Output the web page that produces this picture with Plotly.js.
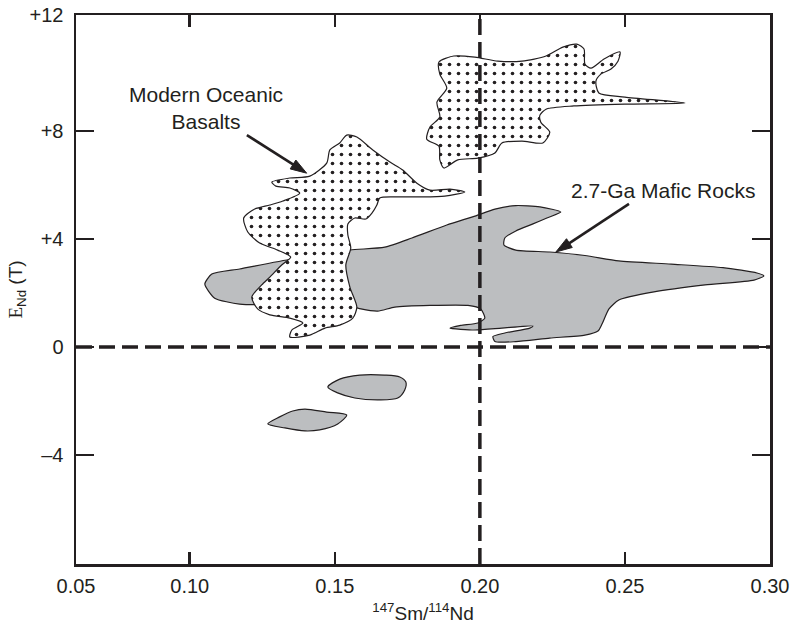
<!DOCTYPE html>
<html>
<head>
<meta charset="utf-8">
<script src="https://cdn.plot.ly/plotly-3.0.1.min.js"></script>
<style>html,body{margin:0;padding:0;background:#fff;}#chart{width:790px;height:626px;}</style>
</head>
<body>
<div id="chart"></div>
<script>
// Axis extents and ticks (data units)
const X_MIN = 0.0608, X_MAX = 0.300;
const Y_MIN = -8.04, Y_MAX = 12.3;
const xTickVals = [X_MIN, 0.10, 0.15, 0.20, 0.25, 0.30];
const xTickText = ['0.05', '0.10', '0.15', '0.20', '0.25', '0.30'];
const yTickVals = [-4, 0, 4, 8, Y_MAX];
const yTickText = ['\u20134', '0', '+4', '+8', '+12'];

// Reference lines
const refX = 0.20;
const refY = 0;

// 2.7-Ga mafic rocks: main field
const maficX = [0.1052,0.1076,0.1172,0.1352,0.1552,0.1672,0.1766,0.1886,0.1983,0.2052,0.2124,0.2207,0.2279,0.2231,0.2183,0.2124,0.2086,0.2083,0.2124,0.2241,0.2362,0.2479,0.2659,0.2838,0.2955,0.2979,0.2945,0.2776,0.2600,0.2479,0.2445,0.2421,0.2407,0.2362,0.2241,0.2124,0.2052,0.2045,0.2086,0.2172,0.2183,0.2076,0.1983,0.1897,0.1934,0.1993,0.2017,0.2003,0.1959,0.1828,0.1707,0.1648,0.1590,0.1566,0.1410,0.1293,0.1172,0.1086,0.1052];
const maficY = [2.33,2.70,2.89,3.26,3.59,3.70,4.04,4.52,4.85,5.11,5.24,5.19,5.00,4.78,4.56,4.30,4.04,3.78,3.59,3.52,3.39,3.19,3.07,2.94,2.74,2.63,2.48,2.30,2.04,1.74,1.41,0.85,0.59,0.44,0.33,0.20,0.20,0.39,0.52,0.70,0.78,0.70,0.63,0.70,0.80,0.89,1.07,1.41,1.54,1.54,1.48,1.33,1.41,1.48,1.85,1.59,1.59,1.81,2.33];
// 2.7-Ga mafic rocks: two small negative fields
const lensAX = [0.1476,0.1517,0.1586,0.1672,0.1724,0.1745,0.1741,0.1717,0.1655,0.1569,0.1510,0.1476];
const lensAY = [-1.48,-1.19,-1.04,-1.04,-1.11,-1.30,-1.59,-1.89,-1.96,-1.89,-1.70,-1.48];
const lensBX = [0.1269,0.1310,0.1355,0.1397,0.1472,0.1541,0.1510,0.1448,0.1397,0.1328,0.1269];
const lensBY = [-2.85,-2.59,-2.37,-2.30,-2.41,-2.52,-2.85,-3.07,-3.11,-3.00,-2.85];

// Modern oceanic basalts: lower field
const mobAX = [0.1283,0.1345,0.1414,0.1472,0.1483,0.1517,0.1541,0.1576,0.1631,0.1690,0.1734,0.1783,0.1828,0.1897,0.1948,0.1879,0.1793,0.1707,0.1655,0.1645,0.1628,0.1607,0.1569,0.1545,0.1545,0.1555,0.1538,0.1552,0.1576,0.1562,0.1517,0.1466,0.1414,0.1345,0.1352,0.1390,0.1345,0.1276,0.1234,0.1214,0.1248,0.1276,0.1317,0.1348,0.1303,0.1241,0.1200,0.1186,0.1224,0.1276,0.1321,0.1379,0.1345,0.1297,0.1283];
const mobAY = [6.11,6.26,6.33,6.81,7.30,7.56,7.85,7.78,7.30,6.85,6.56,6.07,5.81,5.85,5.74,5.59,5.56,5.56,5.52,5.26,4.96,4.74,4.78,4.56,4.15,3.67,3.04,2.22,1.48,1.07,0.81,0.70,0.44,0.37,0.63,0.89,1.07,1.19,1.41,1.85,2.30,2.59,3.04,3.33,3.59,3.85,4.26,4.78,5.11,5.26,5.41,5.70,5.89,5.96,6.11];
// Modern oceanic basalts: upper field
const mobBX = [0.1859,0.1910,0.1983,0.2062,0.2145,0.2228,0.2286,0.2334,0.2359,0.2362,0.2383,0.2428,0.2483,0.2476,0.2452,0.2417,0.2400,0.2410,0.2500,0.2707,0.2500,0.2324,0.2228,0.2207,0.2210,0.2241,0.2217,0.2145,0.2076,0.2052,0.1993,0.1924,0.1876,0.1862,0.1859,0.1817,0.1828,0.1862,0.1852,0.1886,0.1862,0.1859];
const mobBY = [10.56,10.78,10.74,10.59,10.59,10.78,11.11,11.22,11.04,10.48,10.33,10.67,10.93,10.59,10.30,10.11,9.85,9.41,9.26,9.04,9.00,8.93,8.81,8.59,8.33,7.96,7.56,7.63,7.56,7.19,7.00,6.93,6.63,6.93,7.44,7.70,8.15,8.52,9.07,9.59,10.11,10.56];

// Labels and arrows (label centre, arrow tail -> head)
const labelMOB = {text: 'Modern Oceanic<br>Basalts', x: 0.1055, y: 8.85, arrowX: [0.1197, 0.1403], arrowY: [7.85, 6.44]};
const labelMafic = {text: '2.7-Ga Mafic Rocks', x: 0.2631, y: 5.81, arrowX: [0.2514, 0.2262], arrowY: [5.30, 3.52]};

const INK = '#231f20';
const GREY = '#bcbec0';
const FONT = 'Liberation Sans, Arial, sans-serif';

function greyField(x, y, smooth) {
  return {x: x, y: y, type: 'scatter', mode: 'lines', fill: 'toself',
    fillcolor: GREY, line: {color: INK, width: 1.2, shape: 'spline', smoothing: smooth},
    hoverinfo: 'skip', showlegend: false};
}
function dottedField(x, y) {
  return {x: x, y: y, type: 'scatter', mode: 'lines', fill: 'toself',
    fillcolor: 'white',
    fillpattern: {shape: '.', fgcolor: INK, bgcolor: 'white', size: 9, solidity: 0.13},
    line: {color: INK, width: 1.2, shape: 'spline', smoothing: 0.7},
    hoverinfo: 'skip', showlegend: false};
}
function dashLine(x, y) {
  return {x: x, y: y, type: 'scatter', mode: 'lines',
    line: {color: INK, width: 3.5, dash: '16px,7px'}, hoverinfo: 'skip', showlegend: false};
}
function arrowLine(l) {
  return {x: l.arrowX, y: l.arrowY, type: 'scatter', mode: 'lines+markers',
    line: {color: INK, width: 2.6},
    marker: {symbol: 'arrow', angleref: 'previous', size: [0, 17], color: INK, opacity: 1, line: {color: INK, width: 1}},
    hoverinfo: 'skip', showlegend: false, cliponaxis: false};
}

const traces = [
  greyField(maficX, maficY, 0.6),
  greyField(lensAX, lensAY, 0.8),
  greyField(lensBX, lensBY, 0.8),
  dottedField(mobAX, mobAY),
  dottedField(mobBX, mobBY),
  dashLine([refX, refX], [Y_MIN, Y_MAX]),
  dashLine([X_MIN, X_MAX], [refY, refY]),
  arrowLine(labelMOB),
  arrowLine(labelMafic)
];

function labelAnn(l) {
  return {x: l.x, y: l.y, xref: 'x', yref: 'y', text: l.text, showarrow: false,
    font: {family: FONT, size: 21, color: INK}, align: 'center'};
}

const layout = {
  width: 790, height: 626,
  margin: {l: 76, r: 20, t: 15, b: 62},
  paper_bgcolor: 'white', plot_bgcolor: 'white',
  showlegend: false,
  font: {family: FONT, color: INK, size: 20},
  xaxis: {
    range: [X_MIN, X_MAX], tickvals: xTickVals, ticktext: xTickText,
    showgrid: false, zeroline: false, showline: true, linecolor: INK, linewidth: 2.5,
    mirror: 'ticks', ticks: 'inside', ticklen: 12, tickwidth: 2.5, tickcolor: INK,
    tickfont: {family: FONT, size: 20, color: INK}, ticklabelstandoff: 2,
    title: {text: '<sup>147</sup>Sm/<sup>114</sup>Nd', font: {family: FONT, size: 19, color: INK}, standoff: 11}
  },
  yaxis: {
    range: [Y_MIN, Y_MAX], tickvals: yTickVals, ticktext: yTickText,
    showgrid: false, zeroline: false, showline: true, linecolor: INK, linewidth: 2.5,
    mirror: 'ticks', ticks: 'inside', ticklen: 18, tickwidth: 2.5, tickcolor: INK,
    tickfont: {family: FONT, size: 20, color: INK}, ticklabelstandoff: 6,
    title: {text: '<span style="font-family:Liberation Serif, Times New Roman, serif">E</span><sub>Nd</sub> (T)', font: {family: FONT, size: 19, color: INK}, standoff: 2}
  },
  annotations: [labelAnn(labelMOB), labelAnn(labelMafic)]
};

Plotly.newPlot('chart', traces, layout, {staticPlot: true, displayModeBar: false});
</script>
</body>
</html>
